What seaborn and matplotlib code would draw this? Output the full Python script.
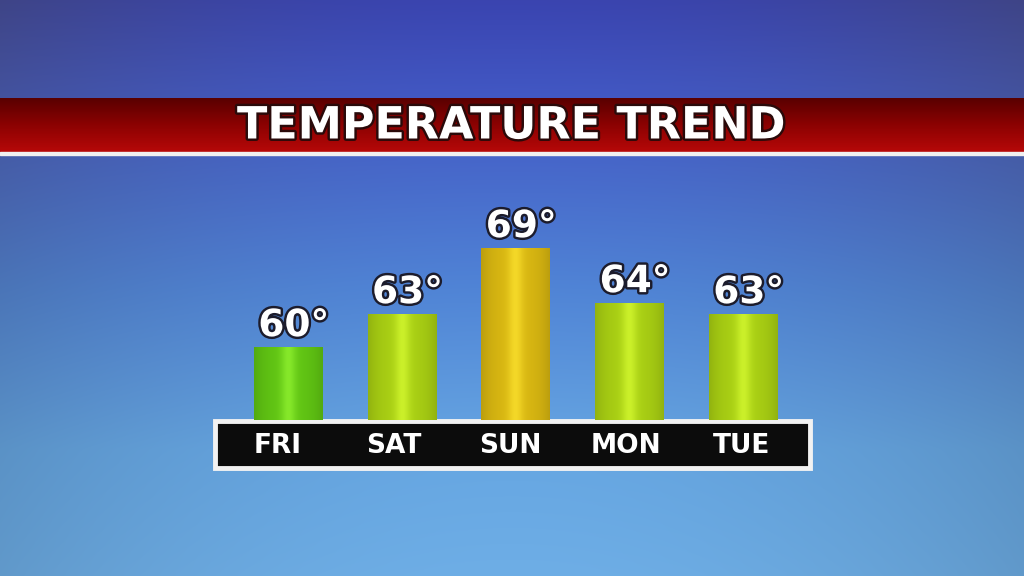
import numpy as np
import pandas as pd
import matplotlib
matplotlib.use("Agg")
import matplotlib.pyplot as plt
import matplotlib.patheffects as pe
from matplotlib.colors import to_rgb
import seaborn as sns

days = ["FRI", "SAT", "SUN", "MON", "TUE"]
temps = [60, 63, 69, 64, 63]
bar_colors = ["#5ec212", "#a6cc12", "#d6b410", "#a6cc12", "#a6cc12"]
bar_highlights = ["#86e82a", "#cbf02a", "#f4d828", "#cbf02a", "#cbf02a"]
title = "TEMPERATURE TREND"

df = pd.DataFrame({"day": days, "temp": temps})

sns.set_theme(style="white")
plt.rcParams["font.family"] = ["DejaVu Sans"]

W, H = 1024, 576
fig = plt.figure(figsize=(W / 100, H / 100), dpi=100)

# sky background
bg = fig.add_axes([0, 0, 1, 1])
bg.set_axis_off()
stops_y = np.array([0.0, 0.17, 0.5, 0.78, 1.0])
stops_c = np.array([to_rgb(c) for c in ["#3a44b0", "#4258c4", "#5084d6", "#66a6e2", "#6eaee6"]])
yy = np.linspace(0, 1, H)
col = np.stack([np.interp(yy, stops_y, stops_c[:, k]) for k in range(3)], axis=1)
xx = np.linspace(-1, 1, W)
vign = 1 - 0.12 * xx ** 2
img = col[:, None, :] * vign[None, :, None]
gray = img.mean(axis=2, keepdims=True)
mix = (0.3 * (1 - yy) ** 2)[:, None, None] * (xx ** 2)[None, :, None]
img = img * (1 - mix) + gray * mix
bg.imshow(np.clip(img, 0, 1), extent=[0, 1, 0, 1], aspect="auto", transform=bg.transAxes)

# red title banner
ban_top, ban_bot = 1 - 98 / H, 1 - 152 / H
red = np.array([to_rgb("#5a0000"), to_rgb("#8c0202"), to_rgb("#b60808")])
ry = np.linspace(0, 1, 60)
rcol = np.stack([np.interp(ry, [0, 0.5, 1], red[:, k]) for k in range(3)], axis=1)
bg.imshow(rcol[:, None, :].repeat(2, axis=1), extent=[0, 1, ban_bot, ban_top],
          aspect="auto", transform=bg.transAxes, zorder=2)
bg.add_patch(plt.Rectangle((0, ban_bot - 2.5 / H), 1, 2.5 / H, color="#f0f0f0",
                           transform=bg.transAxes, zorder=3))
bg.set_xlim(0, 1)
bg.set_ylim(0, 1)
bg.text(0.5, 1 - 126 / H, title, color="white", fontsize=32, fontweight="bold",
        ha="center", va="center", transform=bg.transAxes, zorder=4,
        path_effects=[pe.Stroke(linewidth=3.5, foreground="#2a0a0a"), pe.Normal()])

# bar chart axes
unit = 113.75
left_px = 288 - 0.5 * unit
ax = fig.add_axes([left_px / W, 1 - 420 / H, 5 * unit / W, (420 - 200) / H])
ax.patch.set_alpha(0)
sns.barplot(data=df, x="day", y="temp", order=days, width=0.6, ax=ax,
            color="#a6cc12", saturation=1)
ax.set_xlim(-0.5, 4.5)
ylo = 53.4
ax.set_ylim(ylo, ylo + 220 / 11.0)
ax.set_axis_off()

for i, (patch, c, h) in enumerate(zip(ax.patches, bar_colors, bar_highlights)):
    patch.set_facecolor(c)
    patch.set_edgecolor("none")
    x0 = patch.get_x()
    w = patch.get_width()
    top = patch.get_height()
    t = np.linspace(-1, 1, 64)
    f = np.exp(-(t / 0.22) ** 2) * 0.9 + 0.1 * (1 - t ** 2)
    c0, c1 = np.array(to_rgb(c)), np.array(to_rgb(h))
    grad = c0[None, :] * (1 - f[:, None]) + c1[None, :] * f[:, None]
    edge = 1 - 0.12 * np.abs(t) ** 3
    grad = grad * edge[:, None]
    im = ax.imshow(grad[None, :, :], extent=[x0, x0 + w, ylo, top], aspect="auto",
                   zorder=3, interpolation="bicubic")
    im.set_clip_path(patch)
    ax.text(i + 0.05, top + 0.3, f"{temps[i]}°", ha="center", va="bottom", color="white",
            fontsize=27, fontweight="bold", zorder=5,
            path_effects=[pe.Stroke(linewidth=3.5, foreground="#1c1c2c"), pe.Normal()])

# day label strip
box_l, box_r = 215 / W, 810 / W
box_t, box_b = 1 - 421 / H, 1 - 468 / H
bg.add_patch(plt.Rectangle((box_l, box_b), box_r - box_l, box_t - box_b,
                           facecolor="#0c0c0c", edgecolor="#f2f2f2", linewidth=3.5,
                           transform=fig.transFigure, zorder=6))
for i, d in enumerate(days):
    xf = (278 + i * 116) / W
    fig.text(xf, 1 - 446 / H, d, color="white", fontsize=19, fontweight="bold",
             ha="center", va="center", zorder=7)

fig.savefig("out.png", dpi=100)
